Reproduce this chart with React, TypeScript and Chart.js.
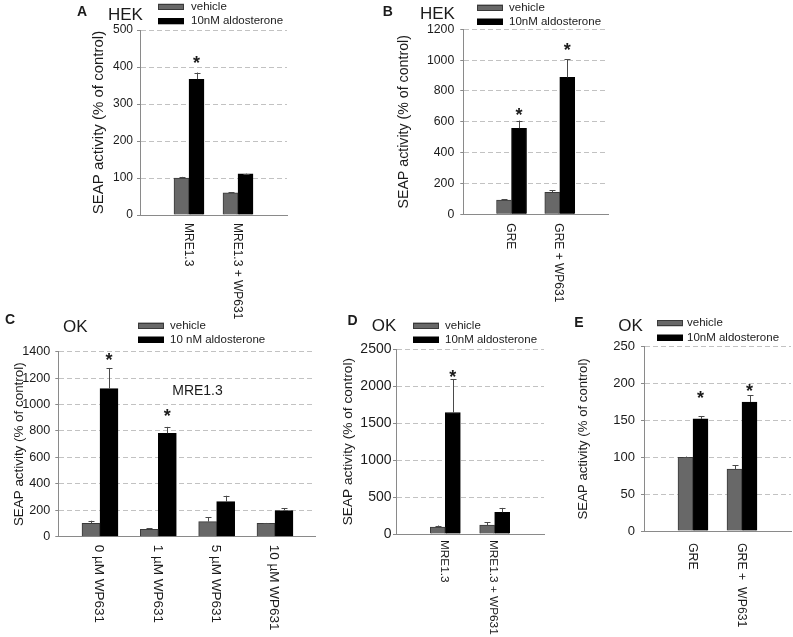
import React, { useEffect, useRef } from 'react';
import { Chart, registerables } from 'chart.js';

Chart.register(...registerables);

const FONT = '"Liberation Sans", Arial, Helvetica, sans-serif';
const TEXT = '#1b1b1b';

// ---- shared labels ----
const vehicleLabel = 'vehicle';
const aldoLabel = '10nM aldosterone';
const aldoLabelSpaced = '10 nM aldosterone';
const yAxisTitle = 'SEAP activity (% of control)';

// ---- Panel A: HEK, MRE1.3 ----
const aCategories = ['MRE1.3', 'MRE1.3 + WP631'];
const aVehicle = [100, 60];
const aVehicleErr = [3, 2];
const aAldo = [367, 111];
const aAldoErr = [18, 1];
const aStars = [420, null];
const aYTicks = [0, 100, 200, 300, 400, 500];

// ---- Panel B: HEK, GRE ----
const bCategories = ['GRE', 'GRE + WP631'];
const bVehicle = [93, 143];
const bVehicleErr = [5, 12];
const bAldo = [558, 888];
const bAldoErr = [50, 117];
const bStars = [665, 1087];
const bYTicks = [0, 200, 400, 600, 800, 1000, 1200];

// ---- Panel C: OK, MRE1.3 dose ----
const cCategories = ['0 µM WP631', '1 µM WP631', '5 µM WP631', '10 µM WP631'];
const cVehicle = [101, 56, 114, 101];
const cVehicleErr = [20, 7, 33, 3];
const cAldo = [1120, 783, 265, 197];
const cAldoErr = [157, 48, 45, 18];
const cStars = [1360, 937, null, null];
const cYTicks = [0, 200, 400, 600, 800, 1000, 1200, 1400];

// ---- Panel D: OK, MRE1.3 ----
const dCategories = ['MRE1.3', 'MRE1.3 + WP631'];
const dVehicle = [95, 122];
const dVehicleErr = [20, 36];
const dAldo = [1644, 294];
const dAldoErr = [450, 59];
const dStars = [2174, null];
const dYTicks = [0, 500, 1000, 1500, 2000, 2500];

// ---- Panel E: OK, GRE ----
const eCategories = ['GRE', 'GRE +  WP631'];
const eVehicle = [100, 84];
const eVehicleErr = [1, 5];
const eAldo = [152, 175];
const eAldoErr = [4, 9];
const eStars = [185, 194];
const eYTicks = [0, 50, 100, 150, 200, 250];

type PanelCfg = {
  letter: string;
  cell: string;
  note?: string;
  categories: string[];
  vehicle: number[];
  vehicleErr: number[];
  aldo: number[];
  aldoErr: number[];
  stars: (number | null)[];
  yTicks: number[];
  aldoLabel: string;
  layout: {
    box: { x: number; y: number; w: number; h: number };
    area: { l: number; r: number; t: number; b: number };
    xRange: [number, number];
    barW: number;
    tickSize: number;
    tickPad: number;
    titleSize: number;
    titleX: number;
    labelSize: number;
    labelGap: number;
    letterPos: [number, number];
    cellPos: [number, number];
    legend: { x: number; y1: number; y2: number; textX: number };
    notePos?: [number, number];
  };
};

const panels: PanelCfg[] = [
  {
    letter: 'A', cell: 'HEK', categories: aCategories, vehicle: aVehicle, vehicleErr: aVehicleErr,
    aldo: aAldo, aldoErr: aAldoErr, stars: aStars, yTicks: aYTicks, aldoLabel,
    layout: {
      box: { x: 0, y: 0, w: 330, h: 320 }, area: { l: 140, r: 287, t: 30, b: 215 }, xRange: [0, 3],
      barW: 15, tickSize: 12, tickPad: 4, titleSize: 15, titleX: 99, labelSize: 12, labelGap: 8,
      letterPos: [82, 12.5], cellPos: [108, 15], legend: { x: 158, y1: 6.7, y2: 21.3, textX: 191 },
    },
  },
  {
    letter: 'B', cell: 'HEK', categories: bCategories, vehicle: bVehicle, vehicleErr: bVehicleErr,
    aldo: bAldo, aldoErr: bAldoErr, stars: bStars, yTicks: bYTicks, aldoLabel,
    layout: {
      box: { x: 330, y: 0, w: 300, h: 320 }, area: { l: 463.3, r: 608, t: 29.3, b: 214.3 }, xRange: [0, 3],
      barW: 15, tickSize: 12.3, tickPad: 6, titleSize: 14.2, titleX: 404, labelSize: 12, labelGap: 9,
      letterPos: [387.7, 11.7], cellPos: [420, 14.5], legend: { x: 477, y1: 7.5, y2: 21.5, textX: 509 },
    },
  },
  {
    letter: 'C', cell: 'OK', note: 'MRE1.3', categories: cCategories, vehicle: cVehicle, vehicleErr: cVehicleErr,
    aldo: cAldo, aldoErr: cAldoErr, stars: cStars, yTicks: cYTicks, aldoLabel: aldoLabelSpaced,
    layout: {
      box: { x: 0, y: 305, w: 345, h: 332 }, area: { l: 58.3, r: 315, t: 351.7, b: 536.7 }, xRange: [0.285, 4.686],
      barW: 18, tickSize: 12.6, tickPad: 5, titleSize: 13.4, titleX: 19, labelSize: 13.5, labelGap: 8,
      letterPos: [10, 320], cellPos: [63, 327], legend: { x: 138, y1: 325.5, y2: 339.5, textX: 170 },
      notePos: [197.5, 390.7],
    },
  },
  {
    letter: 'D', cell: 'OK', categories: dCategories, vehicle: dVehicle, vehicleErr: dVehicleErr,
    aldo: dAldo, aldoErr: dAldoErr, stars: dStars, yTicks: dYTicks, aldoLabel,
    layout: {
      box: { x: 335, y: 305, w: 240, h: 332 }, area: { l: 396, r: 544, t: 349.3, b: 534 }, xRange: [0, 3],
      barW: 15, tickSize: 14, tickPad: 1.5, titleSize: 13.7, titleX: 348, labelSize: 11.8, labelGap: 6,
      letterPos: [352.5, 321], cellPos: [371.7, 326], legend: { x: 413, y1: 325.5, y2: 339.5, textX: 445 },
    },
  },
  {
    letter: 'E', cell: 'OK', categories: eCategories, vehicle: eVehicle, vehicleErr: eVehicleErr,
    aldo: eAldo, aldoErr: eAldoErr, stars: eStars, yTicks: eYTicks, aldoLabel,
    layout: {
      box: { x: 565, y: 305, w: 228, h: 332 }, area: { l: 644, r: 791, t: 346.7, b: 531 }, xRange: [0, 3],
      barW: 15, tickSize: 13, tickPad: 6, titleSize: 13.2, titleX: 583, labelSize: 12.3, labelGap: 12,
      letterPos: [579, 323.3], cellPos: [618.3, 326], legend: { x: 657, y1: 323.3, y2: 337.5, textX: 687 },
    },
  },
];

function makeOverlay(c: PanelCfg) {
  const L = c.layout;
  const ox = L.box.x;
  const oy = L.box.y;
  return {
    id: 'overlay',
    afterDatasetsDraw(chart: any) {
      const ctx = chart.ctx;
      const yS = chart.scales.y;
      chart.data.datasets.forEach((ds: any, di: number) => {
        const meta = chart.getDatasetMeta(di);
        meta.data.forEach((el: any, j: number) => {
          const v = ds.data[j].y;
          const e = ds.errors[j];
          const top = yS.getPixelForValue(v + e);
          const x = Math.round(el.x) + 0.5;
          ctx.save();
          ctx.strokeStyle = '#4a4a4a';
          ctx.lineWidth = 1;
          ctx.beginPath();
          ctx.moveTo(x, el.y);
          ctx.lineTo(x, top);
          ctx.moveTo(x - 3, Math.round(top) + 0.5);
          ctx.lineTo(x + 3, Math.round(top) + 0.5);
          ctx.stroke();
          ctx.restore();
          if (ds.stars && ds.stars[j] != null) {
            const cy = yS.getPixelForValue(ds.stars[j]);
            ctx.save();
            ctx.fillStyle = TEXT;
            ctx.font = `bold 18px ${FONT}`;
            ctx.textAlign = 'center';
            ctx.textBaseline = 'alphabetic';
            const m = ctx.measureText('*');
            const base = cy + (m.actualBoundingBoxAscent - m.actualBoundingBoxDescent) / 2;
            ctx.fillText('*', el.x, base);
            ctx.restore();
          }
        });
      });
    },
    afterDraw(chart: any) {
      const ctx = chart.ctx;
      const xS = chart.scales.x;
      ctx.save();
      ctx.fillStyle = TEXT;
      // rotated category labels
      ctx.font = `${L.labelSize}px ${FONT}`;
      ctx.textAlign = 'left';
      ctx.textBaseline = 'middle';
      c.categories.forEach((lab, i) => {
        const x = xS.getPixelForValue(i + 1) - 1;
        ctx.save();
        ctx.translate(x, L.area.b - oy + L.labelGap);
        ctx.rotate(Math.PI / 2);
        ctx.fillText(lab, 0, 0);
        ctx.restore();
      });
      // panel letter
      ctx.font = `bold 14px ${FONT}`;
      ctx.textAlign = 'center';
      ctx.fillText(c.letter, L.letterPos[0] - ox, L.letterPos[1] - oy);
      // cell line
      ctx.font = `17px ${FONT}`;
      ctx.textAlign = 'left';
      ctx.fillText(c.cell, L.cellPos[0] - ox, L.cellPos[1] - oy);
      // note
      if (c.note && L.notePos) {
        ctx.font = `14px ${FONT}`;
        ctx.textAlign = 'center';
        ctx.fillText(c.note, L.notePos[0] - ox, L.notePos[1] - oy);
      }
      // legend
      const rows = [L.legend.y1, L.legend.y2];
      chart.data.datasets.forEach((ds: any, di: number) => {
        const y = rows[di] - oy;
        ctx.fillStyle = ds.backgroundColor;
        ctx.fillRect(L.legend.x - ox, y - 3, 26, 6);
        ctx.strokeStyle = ds.borderColor;
        ctx.lineWidth = 1;
        ctx.strokeRect(L.legend.x - ox + 0.5, Math.round(y - 3) + 0.5, 25, 5);
        ctx.fillStyle = TEXT;
        ctx.font = `11.5px ${FONT}`;
        ctx.textAlign = 'left';
        ctx.textBaseline = 'middle';
        ctx.fillText(ds.label, L.legend.textX - ox, y);
      });
      ctx.restore();
    },
  };
}

function Panel({ cfg }: { cfg: PanelCfg }) {
  const ref = useRef<HTMLCanvasElement>(null);
  useEffect(() => {
    const c = cfg;
    const L = c.layout;
    const ox = L.box.x;
    const oy = L.box.y;
    const titleOffset = 4 + (L.titleSize * 1.2) / 2;
    const padLeft = L.titleX - titleOffset - ox;
    const yWidth = L.area.l - ox - padLeft;
    const padTop = L.area.t - oy;
    const padRight = ox + L.box.w - L.area.r;
    const padBottom = oy + L.box.h - L.area.b;
    const positions = c.categories.map((_, i) => i + 1);
    const chart = new Chart(ref.current as HTMLCanvasElement, {
      type: 'bar',
      data: {
        datasets: [
          {
            label: vehicleLabel,
            data: positions.map((x, i) => ({ x, y: c.vehicle[i] })),
            errors: c.vehicleErr,
            backgroundColor: '#686868',
            borderColor: '#3a3a3a',
            borderWidth: 1,
            barThickness: L.barW,
          } as any,
          {
            label: c.aldoLabel,
            data: positions.map((x, i) => ({ x, y: c.aldo[i] })),
            errors: c.aldoErr,
            stars: c.stars,
            backgroundColor: '#000000',
            borderColor: '#000000',
            borderWidth: 1,
            barThickness: L.barW,
          } as any,
        ],
      },
      options: {
        responsive: false,
        animation: false,
        devicePixelRatio: 1,
        layout: { padding: { left: padLeft, top: padTop, right: padRight, bottom: padBottom } },
        plugins: { legend: { display: false }, tooltip: { enabled: false }, title: { display: false } },
        scales: {
          x: {
            type: 'linear',
            min: L.xRange[0],
            max: L.xRange[1],
            offset: false,
            ticks: { display: false },
            grid: { display: false, drawTicks: false },
            border: { display: true, color: '#8a8a8a', width: 1 },
            afterFit: (s: any) => { s.height = 0; },
          },
          y: {
            type: 'linear',
            min: c.yTicks[0],
            max: c.yTicks[c.yTicks.length - 1],
            ticks: {
              stepSize: c.yTicks[1] - c.yTicks[0],
              font: { size: L.tickSize, family: FONT },
              color: TEXT,
              padding: L.tickPad,
              callback: (v: any) => String(v),
            },
            grid: { color: '#c2c2c2', lineWidth: 1, tickColor: '#8a8a8a', tickLength: 3, tickBorderDash: [] },
            border: { display: true, color: '#8a8a8a', width: 1, dash: [5, 3] },
            title: {
              display: true,
              text: yAxisTitle,
              font: { size: L.titleSize, family: FONT },
              color: TEXT,
              padding: { top: 4, bottom: 4 },
            },
            afterFit: (s: any) => { s.width = yWidth; },
          },
        },
      } as any,
      plugins: [makeOverlay(c)],
    });
    return () => chart.destroy();
  }, [cfg]);
  const b = cfg.layout.box;
  return (
    <canvas
      ref={ref}
      width={b.w}
      height={b.h}
      style={{ position: 'absolute', left: b.x, top: b.y, width: b.w, height: b.h }}
    />
  );
}

export default function App() {
  return (
    <div style={{ position: 'absolute', left: 0, top: 0, width: 793, height: 637, background: '#ffffff', overflow: 'hidden' }}>
      {panels.map((p) => (
        <Panel key={p.letter} cfg={p} />
      ))}
    </div>
  );
}
